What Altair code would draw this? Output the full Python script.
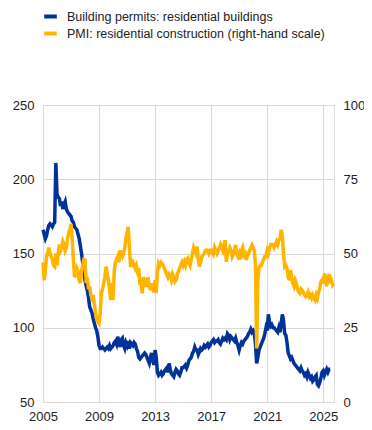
import altair as alt
import pandas as pd

S1 = "Building permits: residential buildings"
S2 = "PMI: residential construction (right-hand scale)"

# Monthly values, Jan 2005 onwards (left scale)
permits = [
    166, 163, 160, 162, 166, 169, 170, 169, 168, 170, 171, 211,   # 2005
    190, 188, 187, 182, 185, 180, 183, 185, 180, 178, 177, 176,   # 2006
    175, 172, 171, 168, 167, 166, 163, 160, 155, 150, 144, 138,   # 2007
    132, 128, 125, 120, 114, 112, 110, 106, 103, 100, 98, 94,     # 2008
    88, 86, 86, 87, 86, 85, 86, 87, 86, 88, 86, 87,               # 2009
    88, 90, 91, 89, 94, 90, 87, 92, 93, 88, 86, 90,               # 2010
    88, 91, 86, 90, 89, 88, 90, 89, 86, 84, 80, 79,               # 2011
    80, 81, 82, 83, 82, 80, 78, 76, 80, 83, 78, 75,               # 2012
    85, 80, 70, 68, 69, 70, 68, 69, 71, 72, 73, 70,               # 2013
    76, 72, 69, 68, 67, 70, 72, 71, 69, 68, 70, 73,               # 2014
    73, 74, 75, 73, 75, 78, 79, 80, 83, 84, 87, 85,               # 2015
    85, 82, 84, 86, 85, 86, 88, 87, 88, 89, 87, 88,               # 2016
    90, 91, 92, 90, 91, 91, 92, 90, 89, 91, 93, 92,               # 2017
    93, 92, 96, 95, 92, 94, 93, 92, 91, 93, 90, 88,               # 2018
    85, 88, 90, 89, 91, 92, 93, 94, 96, 97, 99, 97,               # 2019
    98, 96, 89, 76, 80, 85, 87, 89, 91, 93, 96, 100,              # 2020
    98, 109, 104, 101, 102, 100, 100, 99, 98, 97, 100, 97,        # 2021
    103, 109, 105, 96, 95, 90, 83, 81, 79, 80, 78, 76,            # 2022
    75, 74, 73, 72, 71, 73, 71, 70, 68, 69, 67, 70,               # 2023
    68, 66, 67, 64, 65, 67, 68, 62, 61, 63, 66, 70,               # 2024
    71, 68, 70, 72, 70, 72, 72,                                   # 2025
]

# Monthly values, Jan 2005 onwards (right scale)
pmi = [
    47, 41, 44, 49, 50, 52, 50, 49, 48, 46, 45.6, 50,             # 2005
    46, 50, 53, 51, 52, 54, 53, 51, 52, 55, 57, 58,               # 2006
    60, 55, 48, 42, 43, 45, 44, 41, 40, 44, 46, 48,               # 2007
    47.8, 40, 42, 38, 39, 36, 35, 36, 33, 30, 28, 27,             # 2008
    26.5, 30, 36.7, 38, 40, 42, 45.6, 43, 41, 38, 34.3, 40,       # 2009
    34.3, 44, 47, 48, 49, 47, 51, 50, 49, 50, 52, 55,             # 2010
    57, 59, 52, 46, 46, 47, 46, 45, 46, 44, 45, 40,               # 2011
    40, 36.6, 42, 41, 38.8, 40, 42, 39, 37.7, 40, 38, 37,         # 2012
    41, 36.7, 44, 46.7, 46, 47, 46.5, 46, 45, 44, 43, 42,         # 2013
    43, 42.2, 41, 43, 42, 40.5, 41, 43, 44, 45, 46, 47,           # 2014
    46, 47.2, 46, 48, 48.4, 47, 46, 48, 50, 52, 51, 50,           # 2015
    52.3, 48, 45.6, 47, 49, 49.5, 50, 51, 51.2, 51, 50, 51,       # 2016
    50.6, 51, 50, 52, 51, 50, 51, 52, 53, 52, 51, 53,             # 2017
    54.5, 47.2, 50, 51, 52, 51, 49, 50, 51, 52.9, 50, 49,         # 2018
    50, 48, 51, 52, 50, 51, 47.8, 49, 50, 51, 52, 52.9,           # 2019
    52, 51, 46, 18, 41, 45, 46, 46, 47, 48, 49, 49,               # 2020
    51, 50, 52, 53, 52.9, 53, 52, 53, 54, 53, 54.5, 55,           # 2021
    58, 55.7, 50, 45.6, 46, 45, 42, 41, 44.4, 42, 40, 39,         # 2022
    41, 40, 38, 37, 36.6, 38, 37.5, 37, 36, 35.5, 36, 37,         # 2023
    35.5, 36, 35, 36, 35, 34.3, 36, 35, 37, 38, 40.5, 41,         # 2024
    40, 43.3, 41, 39, 42, 43, 40, 41, 39.4, 40,                   # 2025
]

x_ticks = [2005, 2009, 2013, 2017, 2021, 2025]
left_ticks = [50, 100, 150, 200, 250]
right_ticks = [0, 25, 50, 75, 100]

rows = []
for i, v in enumerate(permits):
    rows.append({"t": 2005 + i / 12, "v": v, "series": S1})
for i, v in enumerate(pmi):
    rows.append({"t": 2005 + i / 12, "v": v, "series": S2})
df = pd.DataFrame(rows)

FONT = "Liberation Sans"
GRID = "#d9d9d9"

xenc = alt.X("t:Q", scale=alt.Scale(domain=[2005, 2025.77], nice=False, zero=False),
             axis=alt.Axis(values=x_ticks, format="d", title=None, grid=True, gridColor=GRID,
                           ticks=False, domain=False, labelFont=FONT, labelFontSize=13,
                           labelColor="#222", labelPadding=8, labelFlush=False))

color = alt.Color("series:N",
                  scale=alt.Scale(domain=[S1, S2], range=["#003299", "#ffb400"]),
                  legend=alt.Legend(orient="none", legendX=-1, legendY=-97, title=None,
                                    symbolType="stroke", symbolSize=160, symbolStrokeWidth=4,
                                    labelFont=FONT, labelFontSize=12.5, labelColor="#222",
                                    rowPadding=0, labelOffset=8, labelLimit=0))

left = alt.Chart(df).transform_filter(alt.datum.series == S1).mark_line(strokeWidth=3.5).encode(
    x=xenc,
    y=alt.Y("v:Q", scale=alt.Scale(domain=[50, 250], nice=False, zero=False),
            axis=alt.Axis(values=left_ticks, title=None, grid=True, gridColor=GRID, ticks=False,
                          domain=False, labelFont=FONT, labelFontSize=13, labelColor="#222",
                          labelPadding=9, orient="left")),
    color=color,
)

right = alt.Chart(df).transform_filter(alt.datum.series == S2).mark_line(strokeWidth=3.5).encode(
    x=xenc,
    y=alt.Y("v:Q", scale=alt.Scale(domain=[0, 100], nice=False, zero=False),
            axis=alt.Axis(values=right_ticks, title=None, grid=False, ticks=False,
                          domain=False, labelFont=FONT, labelFontSize=13, labelColor="#222",
                          labelPadding=9, orient="right")),
    color=color,
)

chart = alt.layer(left, right).resolve_scale(y="independent", color="shared").properties(
    width=291, height=297,
    autosize=alt.AutoSizeParams(type="none"),
    padding={"left": 35, "top": 97, "right": 30, "bottom": 20},
).configure_view(stroke=GRID).configure(background="white")

chart.save("out.html", embed_options={"renderer": "svg", "actions": False})
